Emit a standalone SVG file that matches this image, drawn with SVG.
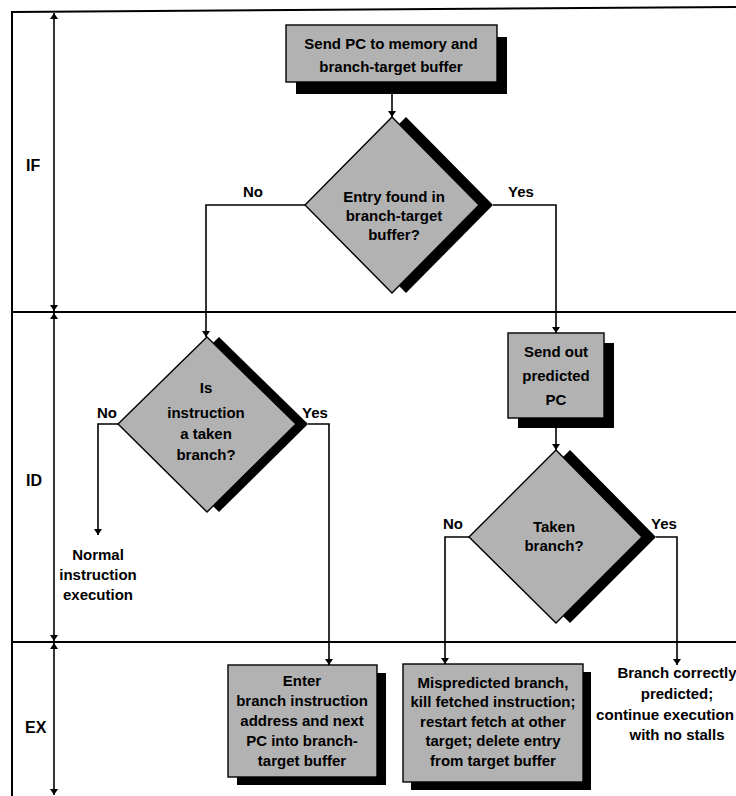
<svg xmlns="http://www.w3.org/2000/svg" width="736" height="796" viewBox="0 0 736 796">
<style>
.frame{stroke:#000;stroke-width:2;fill:none}
.conn{stroke:#000;stroke-width:1.6;fill:none}
.node{fill:#b2b2b2;stroke:#000;stroke-width:1.4}
.shadow{fill:#000}
.nt{font-family:"Liberation Sans",Arial,sans-serif;font-size:15px;font-weight:bold;fill:#000;text-anchor:middle}
.lbl{font-family:"Liberation Sans",Arial,sans-serif;font-size:15px;font-weight:bold;fill:#000;text-anchor:middle}
.stage{font-family:"Liberation Sans",Arial,sans-serif;font-size:16px;font-weight:bold;fill:#000}
</style>
<defs>
<marker id="ah" viewBox="0 0 10 10" refX="10" refY="5" markerWidth="6" markerHeight="8" markerUnits="userSpaceOnUse" orient="auto-start-reverse" preserveAspectRatio="none">
<path d="M0,0 L10,5 L0,10 z" fill="#000"/>
</marker>
</defs>
<rect width="736" height="796" fill="#fff"/>

<g id="frame">
<line class="frame" x1="12" y1="12" x2="736" y2="7"/>
<line class="frame" x1="12" y1="11" x2="12" y2="796"/>
<line class="frame" x1="12" y1="312" x2="736" y2="312"/>
<line class="frame" x1="12" y1="642" x2="736" y2="642"/>
</g>

<g id="stages">
<line class="conn" x1="54" y1="13" x2="54" y2="311" marker-start="url(#ah)" marker-end="url(#ah)"/>
<line class="conn" x1="54" y1="313" x2="54" y2="641" marker-start="url(#ah)" marker-end="url(#ah)"/>
<line class="conn" x1="54" y1="643" x2="54" y2="795" marker-start="url(#ah)" marker-end="url(#ah)"/>
<text class="stage" x="26" y="171">IF</text>
<text class="stage" x="26" y="486">ID</text>
<text class="stage" x="25" y="733">EX</text>
</g>

<g id="connectors">
<line class="conn" x1="392" y1="94" x2="392" y2="117" marker-end="url(#ah)"/>
<polyline class="conn" points="305,205 206,205 206,337" marker-end="url(#ah)"/>
<polyline class="conn" points="493,205 556,205 556,333" marker-end="url(#ah)"/>
<line class="conn" x1="556" y1="428" x2="556" y2="450" marker-end="url(#ah)"/>
<polyline class="conn" points="118,424 98,424 98,535" marker-end="url(#ah)"/>
<polyline class="conn" points="308,424 329,424 329,665" marker-end="url(#ah)"/>
<polyline class="conn" points="469,537 445,537 445,664" marker-end="url(#ah)"/>
<polyline class="conn" points="656,537 677,537 677,665" marker-end="url(#ah)"/>
<text class="lbl" x="253" y="197">No</text>
<text class="lbl" x="521" y="197">Yes</text>
<text class="lbl" x="107" y="418">No</text>
<text class="lbl" x="315" y="418">Yes</text>
<text class="lbl" x="453" y="529">No</text>
<text class="lbl" x="664" y="529">Yes</text>
</g>

<g id="send-pc">
<rect class="shadow" x="296" y="37" width="211" height="57"/>
<rect class="node" x="286" y="25" width="211" height="57"/>
<text class="nt" x="391" y="49">Send PC to memory and</text>
<text class="nt" x="391" y="72">branch-target buffer</text>
</g>

<g id="entry-found">
<polygon class="shadow" points="406,117 493,205 406,293 319,205"/>
<polygon class="node" points="392,117 479,205 392,293 305,205"/>
<text class="nt" x="394" y="202">Entry found in</text>
<text class="nt" x="394" y="221">branch-target</text>
<text class="nt" x="394" y="240">buffer?</text>
</g>

<g id="is-taken">
<polygon class="shadow" points="219,337 308,424 219,512 130,424"/>
<polygon class="node" points="207,337 296,424 207,512 118,424"/>
<text class="nt" x="206" y="393">Is</text>
<text class="nt" x="206" y="418">instruction</text>
<text class="nt" x="206" y="439">a taken</text>
<text class="nt" x="206" y="460">branch?</text>
</g>

<g id="normal">
<text class="lbl" x="98" y="560">Normal</text>
<text class="lbl" x="98" y="580">instruction</text>
<text class="lbl" x="98" y="600">execution</text>
</g>

<g id="send-out">
<rect class="shadow" x="518" y="343" width="96" height="85"/>
<rect class="node" x="508" y="333" width="96" height="85"/>
<text class="nt" x="556" y="357">Send out</text>
<text class="nt" x="556" y="381">predicted</text>
<text class="nt" x="556" y="405">PC</text>
</g>

<g id="taken-branch">
<polygon class="shadow" points="570,450 656,537 570,623 483,537"/>
<polygon class="node" points="556,450 642,537 556,623 469,537"/>
<text class="nt" x="554" y="532">Taken</text>
<text class="nt" x="554" y="551">branch?</text>
</g>

<g id="enter-btb">
<rect class="shadow" x="237" y="673" width="149" height="112"/>
<rect class="node" x="228" y="665" width="149" height="112"/>
<text class="nt" x="302" y="686">Enter</text>
<text class="nt" x="302" y="706">branch instruction</text>
<text class="nt" x="302" y="726">address and next</text>
<text class="nt" x="302" y="746">PC into branch-</text>
<text class="nt" x="302" y="766">target buffer</text>
</g>

<g id="mispredicted">
<rect class="shadow" x="411" y="672" width="180" height="118"/>
<rect class="node" x="403" y="664" width="180" height="118"/>
<text class="nt" x="493" y="688">Mispredicted branch,</text>
<text class="nt" x="493" y="707">kill fetched instruction;</text>
<text class="nt" x="493" y="727">restart fetch at other</text>
<text class="nt" x="493" y="746">target; delete entry</text>
<text class="nt" x="493" y="766">from target buffer</text>
</g>

<g id="correct">
<text class="lbl" x="677" y="678">Branch correctly</text>
<text class="lbl" x="677" y="699">predicted;</text>
<text class="lbl" x="596" y="720" style="text-anchor:start" textLength="138" lengthAdjust="spacingAndGlyphs">continue execution</text>
<text class="lbl" x="677" y="740">with no stalls</text>
</g>
</svg>
